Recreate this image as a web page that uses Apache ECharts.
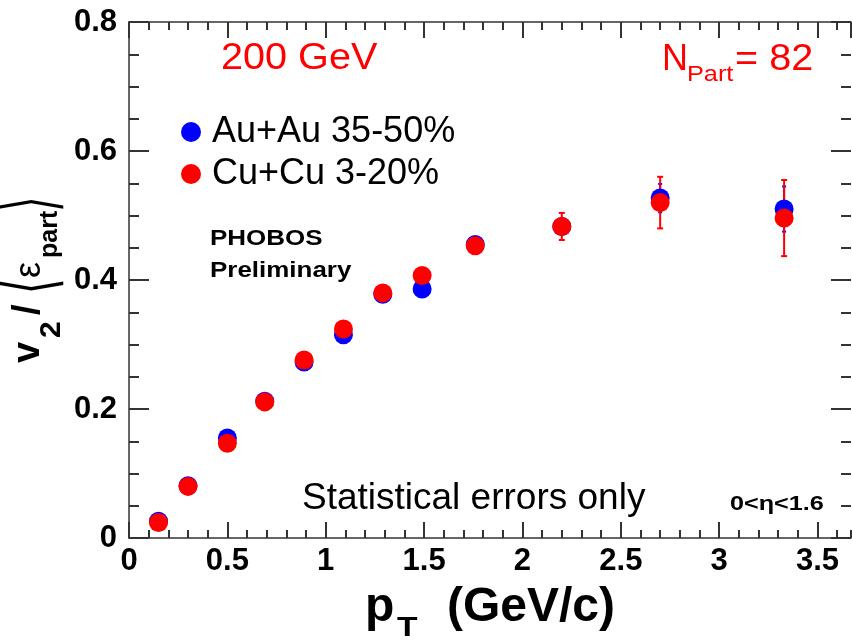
<!DOCTYPE html>
<html><head><meta charset="utf-8">
<script src="https://cdn.jsdelivr.net/npm/echarts@6/dist/echarts.min.js"></script>
<style>html,body{margin:0;padding:0;background:#fff}#c{width:852px;height:640px}</style>
</head><body><div id="c"></div>
<script>
// ---- data ----
const pT = [0.15, 0.30, 0.50, 0.69, 0.89, 1.09, 1.29, 1.49, 1.76, 2.20, 2.70, 3.33];
const auV = [0.026, 0.081, 0.155, 0.212, 0.273, 0.315, 0.378, 0.386, 0.455, 0.483, 0.527, 0.510];
const auE = [0.003, 0.003, 0.003, 0.003, 0.003, 0.003, 0.004, 0.004, 0.006, 0.012, 0.022, 0.035];
const cuV = [0.024, 0.080, 0.147, 0.211, 0.276, 0.324, 0.380, 0.407, 0.453, 0.483, 0.520, 0.496];
const cuE = [0.003, 0.003, 0.003, 0.003, 0.004, 0.004, 0.005, 0.006, 0.008, 0.021, 0.040, 0.059];
const seriesNames = ['Au+Au 35-50%', 'Cu+Cu 3-20%'];
const xTickLabels = ['0', '0.5', '1', '1.5', '2', '2.5', '3', '3.5'];
const yTickLabels = ['0', '0.2', '0.4', '0.6', '0.8'];

const FONT = '"Liberation Sans", Arial, Helvetica, sans-serif';
const AX = '#333333';
const BLUE = '#0000ff', RED = '#ff0000';

function fmt(labels, step) {
  return function (v) {
    const i = Math.round(v / step);
    return (Math.abs(v - i * step) < 1e-6 && i >= 0 && i < labels.length) ? labels[i] : '';
  };
}
function axis(kind, pos, interval, len, showLine, showLabel) {
  const isX = kind === 'x';
  const o = {
    type: 'value', position: pos, gridIndex: 0,
    min: 0, max: isX ? 3.67 : 0.8, interval: interval,
    axisLine: { show: showLine, onZero: false, lineStyle: { color: AX, width: 1.5 } },
    axisTick: { show: true, inside: true, length: len, lineStyle: { color: AX, width: 2 } },
    axisLabel: { show: false },
    splitLine: { show: false }
  };
  if (showLabel) {
    o.axisLabel = {
      show: true, fontFamily: FONT, fontWeight: 'bold', fontSize: 31, color: '#000',
      margin: isX ? 8 : 12, showMaxLabel: !isX,
      formatter: isX ? fmt(xTickLabels, 0.5) : fmt(yTickLabels, 0.2)
    };
  }
  return o;
}
function errSeries(vals, errs, color, cap) {
  return {
    type: 'custom', xAxisIndex: 0, yAxisIndex: 0, silent: true,
    data: pT.map((x, i) => [x, vals[i] - errs[i], vals[i] + errs[i]]),
    encode: { x: 0, y: [1, 2] },
    renderItem: function (params, api) {
      const a = api.coord([api.value(0), api.value(1)]);
      const b = api.coord([api.value(0), api.value(2)]);
      const st = { stroke: color, lineWidth: 2 };
      return { type: 'group', children: [
        { type: 'line', shape: { x1: a[0], y1: a[1], x2: b[0], y2: b[1] }, style: st },
        { type: 'line', shape: { x1: a[0] - cap, y1: a[1], x2: a[0] + cap, y2: a[1] }, style: st },
        { type: 'line', shape: { x1: b[0] - cap, y1: b[1], x2: b[0] + cap, y2: b[1] }, style: st }
      ]};
    }
  };
}
function T(x, base, text, size, color, weight, family, sx) {
  return {
    type: 'text', x: x, y: base - 0.355 * size, scaleX: sx || 1, silent: true,
    style: { text: text, x: 0, y: 0, fill: color || '#000',
      font: (weight || 'normal') + ' ' + size + 'px ' + (family || FONT),
      align: 'left', verticalAlign: 'middle', textAlign: 'left', textVerticalAlign: 'middle' }
  };
}
function C(x, cy, text, size, color, weight, family, sy) {
  return {
    type: 'text', x: x, y: cy, scaleY: sy || 1, silent: true,
    style: { text: text, x: 0, y: 0, fill: color || '#000',
      font: (weight || 'normal') + ' ' + size + 'px ' + (family || FONT),
      align: 'left', verticalAlign: 'middle', textAlign: 'left', textVerticalAlign: 'middle' }
  };
}

const chart = echarts.init(document.getElementById('c'));
chart.setOption({
  animation: false,
  grid: { left: 129, top: 22, width: 722, height: 516 },
  xAxis: [
    axis('x', 'bottom', 0.5, 16, true, true),
    axis('x', 'bottom', 0.1, 8, false, false),
    axis('x', 'top', 0.5, 16, true, false),
    axis('x', 'top', 0.1, 8, false, false)
  ],
  yAxis: [
    axis('y', 'left', 0.2, 20, true, true),
    axis('y', 'left', 0.05, 10, false, false),
    axis('y', 'right', 0.2, 20, false, false),
    axis('y', 'right', 0.05, 10, false, false)
  ],
  legend: {
    orient: 'vertical', left: 176, top: 109, itemWidth: 20, itemHeight: 20, itemGap: 6,
    icon: 'circle', selectedMode: false,
    textStyle: { fontFamily: FONT, fontSize: 36, color: '#000', lineHeight: 36, padding: [0, 0, 0, 6] },
    data: seriesNames
  },
  series: [
    errSeries(auV, auE, BLUE, 2),
    { name: seriesNames[0], type: 'scatter', xAxisIndex: 0, yAxisIndex: 0, symbol: 'circle', symbolSize: 19,
      itemStyle: { color: BLUE, opacity: 1 }, data: pT.map((x, i) => [x, auV[i]]) },
    errSeries(cuV, cuE, RED, 3),
    { name: seriesNames[1], type: 'scatter', xAxisIndex: 0, yAxisIndex: 0, symbol: 'circle', symbolSize: 19,
      itemStyle: { color: RED, opacity: 1 }, data: pT.map((x, i) => [x, cuV[i]]) }
  ],
  graphic: [
    T(221, 72, '200 GeV', 36, RED, 'normal', FONT, 1.1),
    T(662, 73, 'N', 36, RED),
    T(687, 83, 'Part', 22, RED, 'normal', FONT, 1.15),
    T(735, 73, '= 82', 36, RED, 'normal', FONT, 1.1),
    T(210, 247, 'PHOBOS', 22, '#000', 'bold', FONT, 1.18),
    T(210, 279, 'Preliminary', 22, '#000', 'bold', FONT, 1.18),
    T(302, 512, 'Statistical errors only', 37, '#000'),
    T(730, 512, '0<η<1.6', 21, '#000', 'bold', FONT, 1.2),
    T(365, 625, 'p', 48, '#000', 'bold'),
    T(397, 638, 'T', 28, '#000', 'bold', FONT, 1.2),
    T(447, 625, '(GeV/c)', 48, '#000', 'bold'),
    { type: 'group', x: 42, y: 363, rotation: Math.PI / 2, silent: true, children: [
      T(0, 0, 'v', 38, '#000', 'bold'),
      T(25, 20, '2', 30, '#000', 'bold'),
      T(48, 0, '/', 38, '#000', 'bold'),
      C(69, -7, '⟨', 40, '#000', 'normal', '"DejaVu Sans", sans-serif', 1.8),
      T(85, 1, 'ε', 36, '#000', 'normal'),
      T(105, 17, 'part', 25, '#000', 'bold'),
      C(151, -7, '⟩', 40, '#000', 'normal', '"DejaVu Sans", sans-serif', 1.8)
    ]}
  ]
});
</script></body></html>
